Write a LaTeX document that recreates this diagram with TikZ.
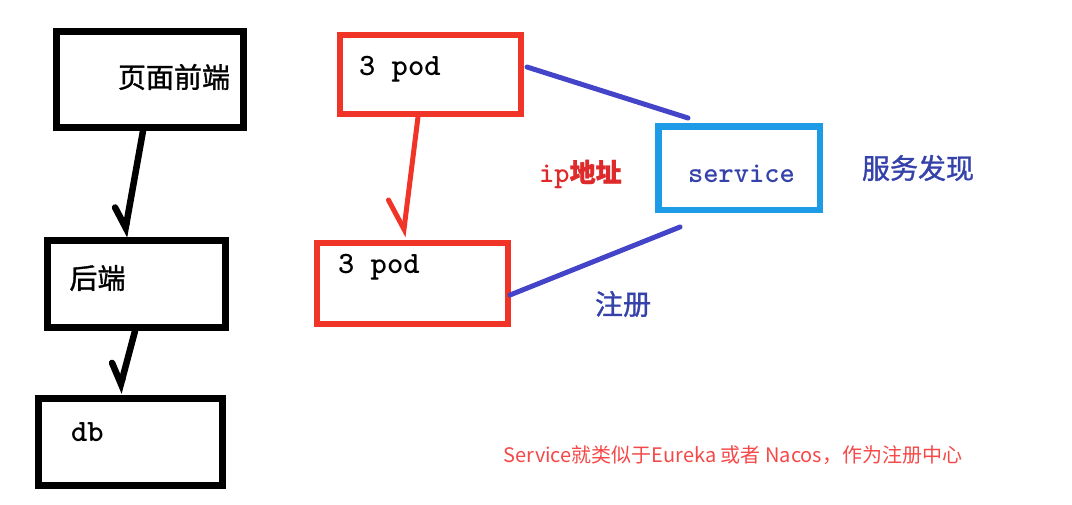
\documentclass[tikz,border=0pt]{standalone}
\usepackage{fontspec}
\newfontfamily\cjk{Noto Sans CJK SC}
\newfontfamily\cjkm[FakeBold=1.2]{Noto Sans CJK SC}
\usetikzlibrary{arrows.meta,calc}
\definecolor{boxred}{RGB}{240,52,40}
\definecolor{linkblue}{RGB}{68,68,200}
\definecolor{svcblue}{RGB}{30,155,230}
\definecolor{txtblue}{RGB}{52,66,170}
\definecolor{iptxt}{RGB}{222,42,42}
\definecolor{notered}{RGB}{245,72,72}
\tikzset{
  rbox/.style={draw=boxred, line width=6pt, inner sep=0pt},
  sbox/.style={draw=svcblue, line width=6.5pt, inner sep=0pt},
  blkarrow/.style={draw=black, line width=6.5pt, line cap=round, line join=round,
    -{Straight Barb[right, length=18pt, width=28pt, line cap=round]}},
  redarrow/.style={draw=boxred, line width=5pt, line cap=round, line join=round,
    -{Straight Barb[right, length=27pt, width=38pt, line cap=round]}},
  bluelink/.style={draw=linkblue, line width=5pt, line cap=round},
  cjktext/.style={inner sep=0pt, font=\cjkm\fontsize{28}{30}\selectfont},
  monotext/.style={inner sep=0pt, anchor=base west, font=\ttfamily\bfseries\fontsize{31}{33}\selectfont},
}
\begin{document}
\begin{tikzpicture}[x=1pt, y=-1pt]
\useasboundingbox (0,0) rectangle (1072,504);
% left column
\node[draw=black, line width=7pt, minimum width=187pt, minimum height=96pt] (front) at (150,79.5) {};
\node[draw=black, line width=7pt, minimum width=178pt, minimum height=87pt] (back) at (136.5,284) {};
\node[draw=black, line width=7pt, minimum width=184pt, minimum height=87pt] (db) at (130.5,442) {};
\node[cjktext, text=black] (frontT) at (174,77) {页面前端};
\node[cjktext, text=black] (backT) at (97.5,278) {后端};
\node[monotext, text=black] (dbT) at (71,441) {db};
\draw[blkarrow] ($(front.south)+(-7,0)$) -- ($(back.north)+(-12.5,0)$);
\draw[blkarrow] ($(back.south)+(-1.5,0)$) -- ($(db.north)+(-12,-2)$);
% pods
\node[rbox, minimum width=181pt, minimum height=79pt] (pod1) at (430.5,74.5) {};
\node[rbox, minimum width=191pt, minimum height=81pt] (pod2) at (412.5,283.5) {};
\node[monotext, text=black] (pod1T) at (359,75) {3 pod};
\node[monotext, text=black] (pod2T) at (338,273) {3 pod};
\draw[redarrow] ($(pod1.south)+(-12.5,0)$) -- ($(pod2.north)+(-9.5,-3)$);
% service
\node[sbox, minimum width=161.5pt, minimum height=83.5pt] (svc) at (739,168) {};
\node[monotext, text=txtblue, font=\ttfamily\bfseries\fontsize{29}{31}\selectfont] (svcT) at (688,182) {service};
\draw[bluelink] ($(pod1.east)+(3,-7.5)$) -- ($(svc.north)+(-51,-5)$);
\draw[bluelink] ($(pod2.east)+(-1,11.5)$) -- ($(svc.south)+(-59,14)$);
% labels
\node[inner sep=0pt, text=iptxt, anchor=base west] (ipT) at (539,182) {\ttfamily\bfseries\fontsize{29}{31}\selectfont ip\cjkm\fontsize{26}{28}\selectfont 地址};
\node[cjktext, text=txtblue] (discT) at (918,168) {服务发现};
\node[cjktext, text=txtblue] (regT) at (623,304) {注册};
\node[inner sep=0pt, text=notered, font=\cjk\fontsize{20}{22}\selectfont] (noteT) at (733,455) {Service就类似于Eureka 或者 Nacos，作为注册中心};
\end{tikzpicture}
\end{document}
